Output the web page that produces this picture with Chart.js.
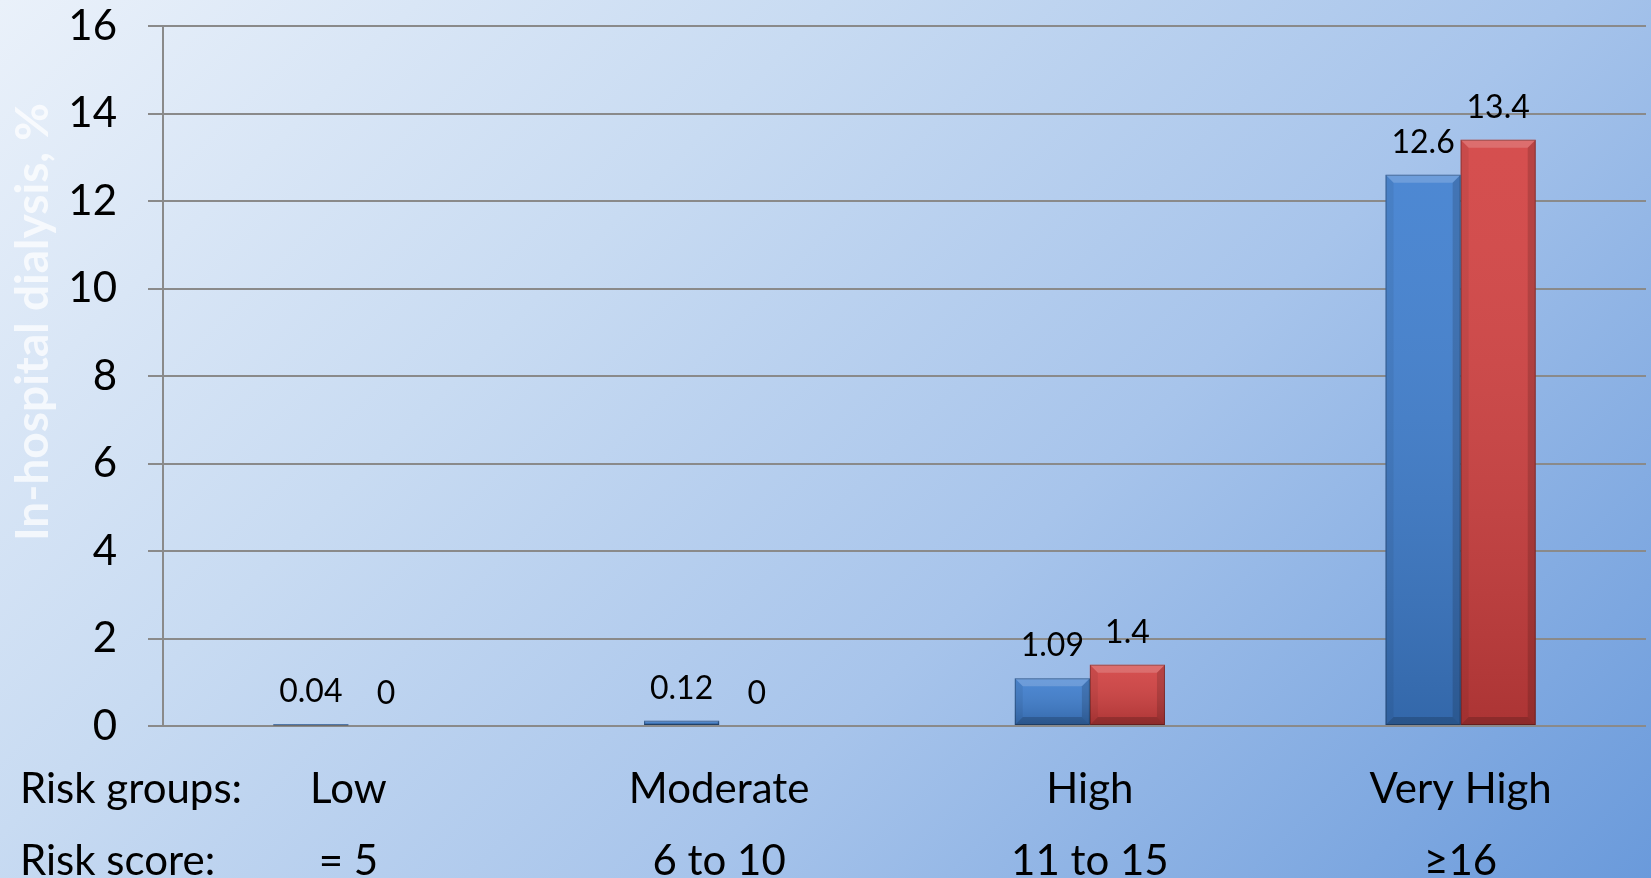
<!DOCTYPE html>
<html>
<head>
<meta charset="utf-8">
<script src="https://cdn.jsdelivr.net/npm/chart.js@4.4.1/dist/chart.umd.min.js"></script>
<style>
  html, body { margin: 0; padding: 0; overflow: hidden; }
  body {
    width: 1651px; height: 878px;
    background: linear-gradient(135deg, #eaf1fa 0%, #c8dbf2 33%, #a7c4eb 62%, #6a9adb 100%);
  }
  canvas { display: block; }
</style>
</head>
<body>
<canvas id="chart" width="1651" height="878"></canvas>
<script>
// Risk groups and their score ranges (two-line category labels)
const riskGroups = ['Low', 'Moderate', 'High', 'Very High'];
const riskScores = ['= 5', '6 to 10', '11 to 15', '\u226516'];

// In-hospital dialysis rates, %
const seriesBlue = [0.04, 0.12, 1.09, 12.6];
const seriesRed = [0, 0, 1.4, 13.4];

// Y axis range
const yMin = 0;
const yMax = 16;
const yStep = 2;

const axisTitle = 'In-hospital dialysis, %';
const rowTitles = ['Risk groups:', 'Risk score:'];

const FONT = 'Lato, "Open Sans", "Noto Sans", sans-serif';
const TICK_SIZE = 42;
const LINE_H = 72;
const X_PAD = 27;
const GRID = '#8a8a8a';

// Bevelled shading drawn over each bar element
const bevelPlugin = {
  id: 'bevel',
  afterDatasetsDraw(chart) {
    const ctx = chart.ctx;
    chart.data.datasets.forEach((ds, di) => {
      const meta = chart.getDatasetMeta(di);
      meta.data.forEach(bar => {
        const top = Math.min(bar.y, bar.base);
        const bottom = Math.max(bar.y, bar.base);
        const h = bottom - top;
        if (h < 0.5) return;
        const left = bar.x - bar.width / 2;
        const right = bar.x + bar.width / 2;
        ctx.save();
        const g = ctx.createLinearGradient(0, top, 0, bottom);
        g.addColorStop(0, 'rgba(255,255,255,0.08)');
        g.addColorStop(1, 'rgba(0,0,0,0.18)');
        ctx.fillStyle = g;
        ctx.fillRect(left, top, right - left, h);
        const b = Math.min(8, h / 3);
        if (b > 1) {
          // top facet
          ctx.fillStyle = 'rgba(255,255,255,0.18)';
          ctx.beginPath();
          ctx.moveTo(left, top); ctx.lineTo(right, top);
          ctx.lineTo(right - b, top + b); ctx.lineTo(left + b, top + b);
          ctx.closePath(); ctx.fill();
          // left facet
          ctx.fillStyle = 'rgba(0,0,0,0.06)';
          ctx.beginPath();
          ctx.moveTo(left, top); ctx.lineTo(left + b, top + b);
          ctx.lineTo(left + b, bottom - b); ctx.lineTo(left, bottom);
          ctx.closePath(); ctx.fill();
          // right facet
          ctx.fillStyle = 'rgba(0,0,0,0.14)';
          ctx.beginPath();
          ctx.moveTo(right, top); ctx.lineTo(right - b, top + b);
          ctx.lineTo(right - b, bottom - b); ctx.lineTo(right, bottom);
          ctx.closePath(); ctx.fill();
          // bottom facet
          ctx.fillStyle = 'rgba(0,0,0,0.18)';
          ctx.beginPath();
          ctx.moveTo(left, bottom); ctx.lineTo(left + b, bottom - b);
          ctx.lineTo(right - b, bottom - b); ctx.lineTo(right, bottom);
          ctx.closePath(); ctx.fill();
        }
        ctx.strokeStyle = 'rgba(0,0,0,0.28)';
        ctx.lineWidth = 1;
        ctx.strokeRect(left + 0.5, top + 0.5, right - left - 1, Math.max(h - 1, 0.5));
        ctx.restore();
      });
    });
  }
};

// Value labels above bars, axis title and row captions
const textPlugin = {
  id: 'texts',
  afterDraw(chart) {
    const ctx = chart.ctx;
    ctx.save();
    ctx.fillStyle = '#000';
    ctx.font = '32px ' + FONT;
    ctx.textAlign = 'center';
    ctx.textBaseline = 'alphabetic';
    chart.data.datasets.forEach((ds, di) => {
      const meta = chart.getDatasetMeta(di);
      meta.data.forEach((bar, i) => {
        ctx.fillText(String(ds.data[i]), bar.x, bar.y - 22);
      });
    });

    // row captions aligned with the category label lines
    const xs = chart.scales.x;
    const y0 = xs.top + X_PAD + LINE_H / 2;
    ctx.font = TICK_SIZE + 'px ' + FONT;
    ctx.textAlign = 'left';
    ctx.textBaseline = 'middle';
    rowTitles.forEach((t, i) => ctx.fillText(t, 20, y0 + i * LINE_H));

    // rotated y axis title
    ctx.translate(33, 322);
    ctx.rotate(-Math.PI / 2);
    ctx.font = 'bold 46px ' + FONT;
    ctx.fillStyle = 'rgba(255,255,255,0.72)';
    ctx.textAlign = 'center';
    ctx.textBaseline = 'middle';
    ctx.fillText(axisTitle, 0, 0);
    ctx.restore();
  }
};

new Chart(document.getElementById('chart'), {
  type: 'bar',
  data: {
    labels: riskGroups.map((g, i) => [g, riskScores[i]]),
    datasets: [
      { label: 'Series 1', data: seriesBlue, backgroundColor: '#3e7ecf', borderWidth: 0 },
      { label: 'Series 2', data: seriesRed, backgroundColor: '#d24040', borderWidth: 0 }
    ]
  },
  options: {
    responsive: false,
    animation: false,
    layout: { padding: { top: 0, right: 5, left: 0, bottom: 0 } },
    plugins: {
      legend: { display: false },
      tooltip: { enabled: false }
    },
    datasets: {
      bar: { categoryPercentage: 0.405, barPercentage: 1 }
    },
    scales: {
      x: {
        grid: { display: false, drawTicks: false },
        border: { display: false },
        ticks: {
          color: '#000',
          padding: X_PAD,
          maxRotation: 0,
          autoSkip: false,
          font: { family: FONT, size: TICK_SIZE, lineHeight: LINE_H / TICK_SIZE }
        },
        afterFit(scale) { scale.height = 152; }
      },
      y: {
        min: yMin,
        max: yMax,
        grid: { color: GRID, lineWidth: 2, tickLength: 15, drawTicks: true },
        border: { display: true, color: GRID, width: 2 },
        ticks: {
          stepSize: yStep,
          color: '#000',
          padding: 31,
          font: { family: FONT, size: TICK_SIZE }
        },
        afterFit(scale) {
          scale.width = 163;
          scale.paddingTop = 26;
          scale.paddingBottom = 0;
        }
      }
    }
  },
  plugins: [bevelPlugin, textPlugin]
});
</script>
</body>
</html>
